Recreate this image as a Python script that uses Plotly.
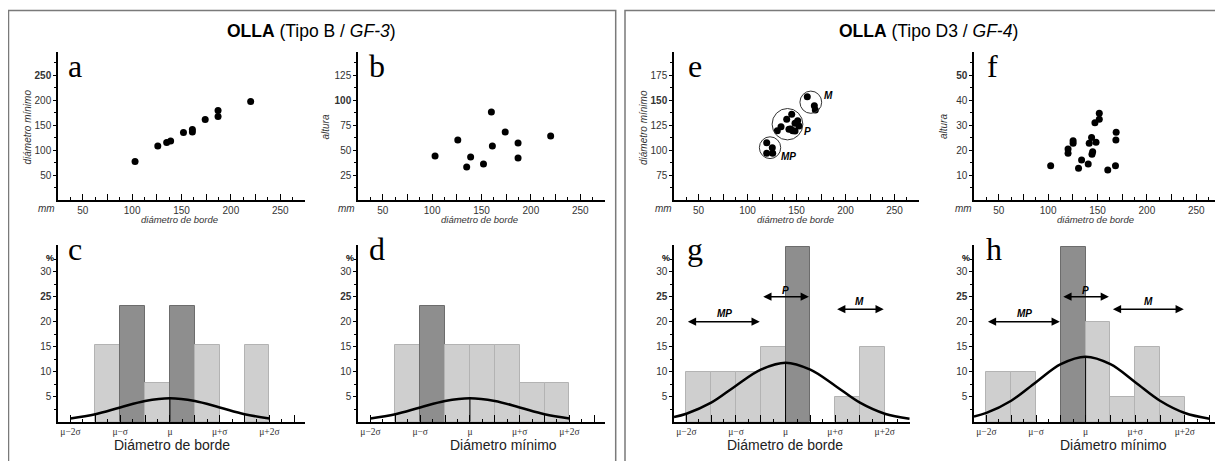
import plotly.graph_objects as go

# The page body adds an 8px margin, so the figure is drawn 8px smaller and
# every reference pixel position is shifted by that offset.
OFF = 8
W, H = 1223 - OFF, 461 - OFF
def px(x): return (x - OFF) / W
def py(y): return 1 - (y - OFF) / H

# ---------------- data ----------------
# a / b : OLLA Tipo B
a_borde  = [103, 126, 135, 139, 152, 161, 161, 174, 187, 187, 220]
a_minimo = [77, 108, 115, 118, 135, 141, 136, 161, 179, 167, 197]
b_borde  = [103, 126, 135, 139, 152, 160, 161, 174, 187, 187, 220]
b_altura = [44, 60, 33, 43, 36, 88, 54, 68, 57, 42, 64]

# e / f : OLLA Tipo D3
e_borde  = [119.6, 125.3, 119.6, 125.7, 130.4, 134.2, 140.0, 145.1, 151.2, 148.5,
            152.6, 142.3, 146.1, 148.5, 144.0, 161.0, 168.2, 169.2]
e_minimo = [107.3, 102.3, 96.7, 96.7, 119.3, 123.3, 130.7, 135.7, 129.3, 126.7,
            124.0, 120.7, 119.3, 119.0, 121.0, 153.3, 144.3, 140.0]
f_borde  = [102.6, 120.2, 120.2, 125.3, 125.3, 130.8, 133.9, 140.6, 141.6, 144.0,
            145.1, 144.4, 148.5, 147.4, 151.8, 151.8, 160.4, 168.2, 168.6, 168.9]
f_altura = [13.7, 20.4, 18.7, 23.7, 22.7, 12.7, 16.0, 14.4, 22.7, 25.0,
            19.3, 18.3, 23.1, 30.9, 34.7, 32.3, 12.0, 13.7, 24.0, 27.1]

# clusters in panel e (data units)
cluster_names = ["MP", "P", "M"]
cluster_cx = [123.0, 140.8, 164.6]
cluster_cy = [102.3, 125.8, 147.8]
cluster_r  = [10.9, 15.7, 11.1]
cluster_lx = [142.3, 161.0, 182.5]
cluster_ly = [93.3, 118.3, 154.3]

# histograms (x in sigma units)
bin_centers = [-1.75, -1.25, -0.75, -0.25, 0.25, 0.75, 1.25, 1.75]
c_pct  = [None, 15.4, 23.1, 7.7, 23.1, 15.4, None, 15.4]
c_dark = [0, 0, 1, 0, 1, 0, 0, 0]
d_pct  = [None, 15.4, 23.1, 15.4, 15.4, 15.4, 7.7, 7.7]
d_dark = [0, 0, 1, 0, 0, 0, 0, 0]
g_pct  = [10, 10, 10, 15, 35, None, 5, 15]
g_dark = [0, 0, 0, 0, 1, 0, 0, 0]
h_pct  = [10, 10, None, 35, 20, 5, 15, 5]
h_dark = [0, 0, 0, 1, 0, 0, 0, 0]

curve_x = [-2.25, -2, -1.5, -1, -0.5, 0, 0.5, 1, 1.5, 2, 2.5]
c_curve = [None, 0.65, 1.5, 2.85, 4.15, 4.7, 4.15, 2.85, 1.5, 0.65, None]
d_curve = [None, 0.65, 1.5, 2.85, 4.15, 4.7, 4.15, 2.85, 1.5, 0.65, None]
g_curve = [0.95, 1.6, 3.8, 7.2, 10.4, 11.8, 10.4, 7.2, 3.8, 1.6, 0.6]
h_curve = [1.05, 1.75, 4.2, 7.9, 11.5, 13.0, 11.5, 7.9, 4.2, 1.75, 0.6]

# range arrows (name, from, to, level %, label x, label y)
g_arrows = [("MP", -2.0, -0.52, 20.0, -1.24, 21.6),
            ("P", -0.48, 0.47, 25.0, 0.0, 26.3),
            ("M", 1.01, 1.98, 22.5, 1.49, 24.0)]
h_arrows = [("MP", -2.0, -0.52, 20.0, -1.24, 21.6),
            ("P", -0.48, 0.47, 25.0, 0.0, 26.3),
            ("M", 0.52, 1.98, 22.5, 1.26, 24.0)]

sig_tickvals = [-2, -1, 0, 1, 2]
sig_ticktext = ["μ−2σ", "μ−σ", "μ", "μ+σ", "μ+2σ"]

# ---------------- figure ----------------
fig = go.Figure()
LIGHT, LIGHT_EDGE = "#cfcfcf", "#b3b3b3"
DARK, DARK_EDGE = "#8e8e8e", "#6c6c6c"
SANS = "Liberation Sans"
SERIF = "Liberation Serif"
TICKC = "#333333"

layout = dict(width=W, height=H, margin=dict(l=0, r=0, t=0, b=0),
              paper_bgcolor="white", plot_bgcolor="white", showlegend=False)

def scatter_axes(n, x0, x1, yr, ytv, ytt, yminor):
    layout[f"xaxis{n}"] = dict(
        domain=[px(x0), min(1, px(x1))], range=[25, 275], anchor=f"y{n}",
        showline=True, linecolor="black", linewidth=1.5, showgrid=False, zeroline=False,
        ticks="inside", ticklen=6, tickwidth=1.2, tickcolor="black",
        tickmode="array", tickvals=[50, 75, 100, 125, 150, 175, 200, 225, 250, 275],
        ticktext=["50", "", "100", "", "150", "", "200", "", "250", ""],
        minor=dict(tickmode="array", tickvals=[37.5, 62.5, 87.5, 112.5, 137.5, 162.5, 187.5, 212.5, 237.5, 262.5],
                   ticks="inside", ticklen=3, tickwidth=1, tickcolor="black"),
        tickfont=dict(family=SANS, size=10, color=TICKC))
    layout[f"yaxis{n}"] = dict(
        domain=[py(200), py(52)], range=yr, anchor=f"x{n}",
        showline=True, linecolor="black", linewidth=1.5, showgrid=False, zeroline=False,
        ticks="outside", ticklen=3, tickwidth=1, tickcolor="black",
        tickmode="array", tickvals=ytv, ticktext=ytt,
        minor=dict(tickmode="array", tickvals=yminor, ticks="outside", ticklen=2, tickwidth=1, tickcolor="black"),
        tickfont=dict(family=SANS, size=10, color=TICKC))

def hist_axes(n, x0, x1, xr):
    major = [v / 2 for v in range(-4, 6)]
    minor = [v / 4 for v in range(-9, 11, 2)]
    layout[f"xaxis{n}"] = dict(
        domain=[px(x0), min(1, px(x1))], range=xr, anchor=f"y{n}",
        showline=True, linecolor="black", linewidth=1.5, showgrid=False, zeroline=False,
        ticks="inside", ticklen=7, tickwidth=1.2, tickcolor="black",
        tickmode="array", tickvals=major,
        ticktext=[sig_ticktext[sig_tickvals.index(v)] if v in sig_tickvals else "" for v in major],
        minor=dict(tickmode="array", tickvals=minor, ticks="inside", ticklen=3, tickwidth=1, tickcolor="black"),
        tickfont=dict(family=SERIF, size=9.5, color=TICKC))
    layout[f"yaxis{n}"] = dict(
        domain=[py(421.7), py(245)], range=[0, 35.34], anchor=f"x{n}",
        showline=True, linecolor="black", linewidth=1.5, showgrid=False, zeroline=False,
        ticks="outside", ticklen=3, tickwidth=1, tickcolor="black",
        tickmode="array", tickvals=[5, 10, 15, 20, 25, 30],
        ticktext=["5", "10", "15", "20", "<b>25</b>", "30"],
        minor=dict(tickmode="array", tickvals=[2.5, 7.5, 12.5, 17.5, 22.5, 27.5, 32.5],
                   ticks="outside", ticklen=2, tickwidth=1, tickcolor="black"),
        tickfont=dict(family=SANS, size=10, color=TICKC))

scatter_axes(1, 58, 305, [0, 296], [50, 100, 150, 200, 250], ["50", "100", "150", "200", "<b>250</b>"],
             [25, 75, 125, 175, 225, 275])
scatter_axes(2, 358, 605, [0, 148], [25, 50, 75, 100, 125], ["25", "50", "75", "<b>100</b>", "125"],
             [12.5, 37.5, 62.5, 87.5, 112.5, 137.5])
scatter_axes(3, 674, 919, [50, 198], [75, 100, 125, 150, 175], ["75", "100", "125", "<b>150</b>", "175"],
             [62.5, 87.5, 112.5, 137.5, 162.5, 187.5])
scatter_axes(4, 974, 1221, [0, 59.2], [10, 20, 30, 40, 50], ["10", "20", "30", "40", "<b>50</b>"],
             [5, 15, 25, 35, 45, 55])
hist_axes(5, 58, 305, [-2.25, 2.715])
hist_axes(6, 358, 605, [-2.25, 2.715])
hist_axes(7, 674, 910, [-2.25, 2.51])
hist_axes(8, 974, 1222, [-2.25, 2.75])

def ax(n):
    return dict(xaxis=f"x{n}", yaxis=f"y{n}")

for n, xs, ys in [(1, a_borde, a_minimo), (2, b_borde, b_altura), (3, e_borde, e_minimo), (4, f_borde, f_altura)]:
    fig.add_trace(go.Scatter(x=xs, y=ys, mode="markers", marker=dict(color="black", size=7),
                             hoverinfo="skip", **ax(n)))

for n, pct, dark, curve in [(5, c_pct, c_dark, c_curve), (6, d_pct, d_dark, d_curve),
                            (7, g_pct, g_dark, g_curve), (8, h_pct, h_dark, h_curve)]:
    fig.add_trace(go.Bar(x=bin_centers, y=pct, width=0.5,
                         marker=dict(color=[DARK if k else LIGHT for k in dark],
                                     line=dict(color=[DARK_EDGE if k else LIGHT_EDGE for k in dark], width=1)),
                         hoverinfo="skip", **ax(n)))
    peak = max(v for v in curve if v is not None)
    fig.add_trace(go.Scatter(x=[0, 0], y=[0, peak], mode="lines", line=dict(color="black", width=1),
                             hoverinfo="skip", **ax(n)))
    fig.add_trace(go.Scatter(x=curve_x, y=curve, mode="lines", line=dict(color="black", width=2.5, shape="spline"),
                             hoverinfo="skip", **ax(n)))

layout["bargap"] = 0
ann = []
shapes = []

def txt(x, y, text, font, xanchor="center", yanchor="middle", **kw):
    ann.append(dict(x=px(x), y=py(y), xref="paper", yref="paper", showarrow=False,
                    xanchor=xanchor, yanchor=yanchor, text=text, font=font, **kw))

# frames
shapes.append(dict(type="rect", xref="paper", yref="paper", x0=px(8.5), x1=px(615.7), y0=py(480), y1=py(10.5),
                   line=dict(color="#7a7a7a", width=1.5)))
shapes.append(dict(type="rect", xref="paper", yref="paper", x0=px(625), x1=px(1240), y0=py(480), y1=py(10.5),
                   line=dict(color="#7a7a7a", width=1.5)))

# titles
txt(311, 31, "<b>OLLA</b> (Tipo B / <i>GF-3</i>)", dict(family=SANS, size=17.5, color="black"))
txt(929, 31, "<b>OLLA</b> (Tipo D3 / <i>GF-4</i>)", dict(family=SANS, size=17.5, color="black"))

# panel letters
for t, x, y in [("a", 66, 66), ("b", 367, 66), ("e", 686, 66), ("f", 985, 66),
                ("c", 66, 249), ("d", 367, 249), ("g", 685, 249), ("h", 984, 249)]:
    txt(x, y, t, dict(family=SERIF, size=32, color="black"), xanchor="left")

# scatter axis titles
for t, x in [("diámetro mínimo", 26.5), ("altura", 324.5), ("diámetro mínimo", 643), ("altura", 943)]:
    txt(x, 127, f"<i>{t}</i>", dict(family=SANS, size=10, color=TICKC), textangle=-90)
for x in [46.5, 346.5, 663, 963]:
    txt(x, 208.5, "<i>mm</i>", dict(family=SANS, size=10, color=TICKC))
for x in [179.5, 479.5, 795, 1095]:
    txt(x, 220, "<i>diámetro de borde</i>", dict(family=SANS, size=9.5, color=TICKC))

# histogram titles
for t, x in [("Diámetro de borde", 171.7), ("Diámetro mínimo", 503), ("Diámetro de borde", 785), ("Diámetro mínimo", 1113)]:
    txt(x, 444.5, t, dict(family=SANS, size=14, color="#222"))
for x in [50, 350, 666, 966]:
    txt(x, 258, "<b>%</b>", dict(family=SANS, size=9, color="black"))

# clusters in e
for name, cx, cy, r, lx, ly in zip(cluster_names, cluster_cx, cluster_cy, cluster_r, cluster_lx, cluster_ly):
    shapes.append(dict(type="circle", xref="x3", yref="y3", x0=cx - r, x1=cx + r, y0=cy - r, y1=cy + r,
                       line=dict(color="#333", width=1)))
    ann.append(dict(x=lx, y=ly, xref="x3", yref="y3", showarrow=False, text=f"<b><i>{name}</i></b>",
                    xanchor="center", yanchor="middle", font=dict(family=SANS, size=10, color="black")))

# arrows in g and h
for n, arrows in [(7, g_arrows), (8, h_arrows)]:
    for name, xa, xb, yv, lx, ly in arrows:
        ann.append(dict(x=xb, y=yv, ax=xa, ay=yv, xref=f"x{n}", yref=f"y{n}", axref=f"x{n}", ayref=f"y{n}",
                        showarrow=True, arrowside="end+start", arrowhead=2, arrowsize=1.1, arrowwidth=1.5,
                        arrowcolor="black", text=""))
        ann.append(dict(x=lx, y=ly, xref=f"x{n}", yref=f"y{n}", showarrow=False, text=f"<b><i>{name}</i></b>",
                        xanchor="center", yanchor="middle", font=dict(family=SANS, size=10, color="black")))

layout["annotations"] = ann
layout["shapes"] = shapes
fig.update_layout(**layout)
fig.write_html("out.html")
